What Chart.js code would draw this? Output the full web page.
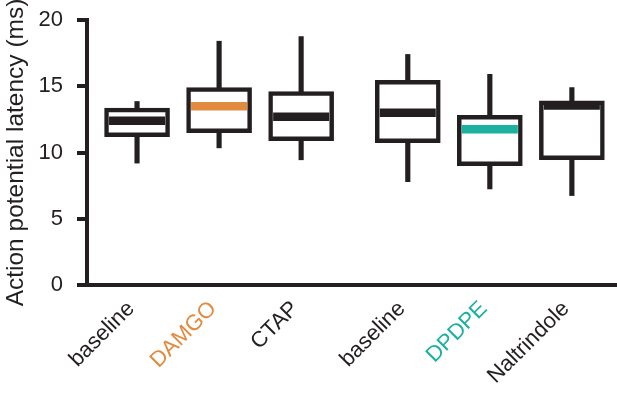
<!DOCTYPE html>
<html><head><meta charset="utf-8">
<script src="https://cdn.jsdelivr.net/npm/chart.js@4"></script>
<style>html,body{margin:0;padding:0;background:#fff;} #wrap{width:617px;height:398px;position:relative}</style>
</head><body><div id="wrap"><canvas id="c" width="617" height="398"></canvas></div>
<script>
// ---- data ----
const categories   = ['baseline', 'DAMGO', 'CTAP', 'baseline', 'DPDPE', 'Naltrindole'];
const groupIndex   = [0, 0, 0, 1, 1, 1];
const whiskerLow   = [9.2, 10.35, 9.45, 7.8, 7.25, 6.75];
const quartile1    = [11.2, 11.5, 10.9, 10.75, 9.0, 9.45];
const medianValues = [12.4, 13.5, 12.7, 13.0, 11.75, 13.55];
const quartile3    = [13.35, 14.9, 14.6, 15.45, 12.8, 13.9];
const whiskerHigh  = [13.85, 18.4, 18.75, 17.4, 15.9, 14.9];
const yTickValues  = [0, 5, 10, 15, 20];

// ---- styling ----
const INK = '#231f20';
const ORANGE = '#e28a3d';
const TEAL = '#1bb09f';
const labelColors = [INK, ORANGE, INK, INK, TEAL, INK];
const FAMILY = '"Liberation Sans", Arial, Helvetica, sans-serif';
const GROUP_GAP = 0.3;
const xPos = categories.map((c, i) => i + groupIndex[i] * GROUP_GAP);

new Chart(document.getElementById('c'), {
  type: 'bar',
  data: {
    datasets: [
      {
        type: 'scatter',
        data: xPos.map((x, i) => ({ x, y: medianValues[i] })),
        pointStyle: 'line',
        pointRadius: 28,
        pointHoverRadius: 28,
        pointBorderWidth: 8.5,
        pointHoverBorderWidth: 8.5,
        pointBorderColor: labelColors,
        clip: false,
        order: 1
      },
      {
        type: 'bar',
        data: xPos.map((x, i) => ({ x, y: [quartile1[i], quartile3[i]] })),
        backgroundColor: '#ffffff',
        borderColor: INK,
        borderWidth: 4.5,
        borderSkipped: false,
        barThickness: 65,
        grouped: false,
        order: 2
      },
      {
        type: 'bar',
        data: xPos.map((x, i) => ({ x, y: [whiskerLow[i], whiskerHigh[i]] })),
        backgroundColor: INK,
        borderWidth: 0,
        barThickness: 4.5,
        grouped: false,
        order: 3
      }
    ]
  },
  options: {
    responsive: false,
    animation: false,
    events: [],
    plugins: { legend: { display: false }, tooltip: { enabled: false } },
    layout: { autoPadding: false, padding: { top: 20, right: 0, bottom: 0, left: 0 } },
    scales: {
      x: {
        type: 'linear',
        offset: false,
        min: -0.61,
        max: 5.85,
        grid: { display: false, drawTicks: false, offset: false },
        border: { display: true, color: INK, width: 4 },
        afterBuildTicks: s => { s.ticks = xPos.map(v => ({ value: v })); },
        afterFit: s => { s.height = 113; s.paddingLeft = 0; s.paddingRight = 0; },
        ticks: {
          autoSkip: false,
          maxRotation: 45,
          minRotation: 45,
          padding: 11,
          labelOffset: -6,
          font: { family: FAMILY, size: 22 },
          color: ctx => labelColors[ctx.index],
          callback: (v, i) => categories[i]
        }
      },
      y: {
        min: 0,
        max: 20,
        afterBuildTicks: s => { s.ticks = yTickValues.map(v => ({ value: v })); },
        ticks: { padding: 14, color: INK, font: { family: FAMILY, size: 22 } },
        grid: { drawOnChartArea: false, drawTicks: true, tickLength: 10, color: INK, lineWidth: 4 },
        border: { color: INK, width: 4 },
        title: {
          display: true,
          text: 'Action potential latency (ms)',
          color: INK,
          font: { family: FAMILY, size: 24.5 },
          padding: { top: 1.5, bottom: 0 }
        },
        afterFit: s => { s.width = 87; s.paddingTop = 0; s.paddingBottom = 0; }
      }
    }
  }
});
</script>
</body></html>
